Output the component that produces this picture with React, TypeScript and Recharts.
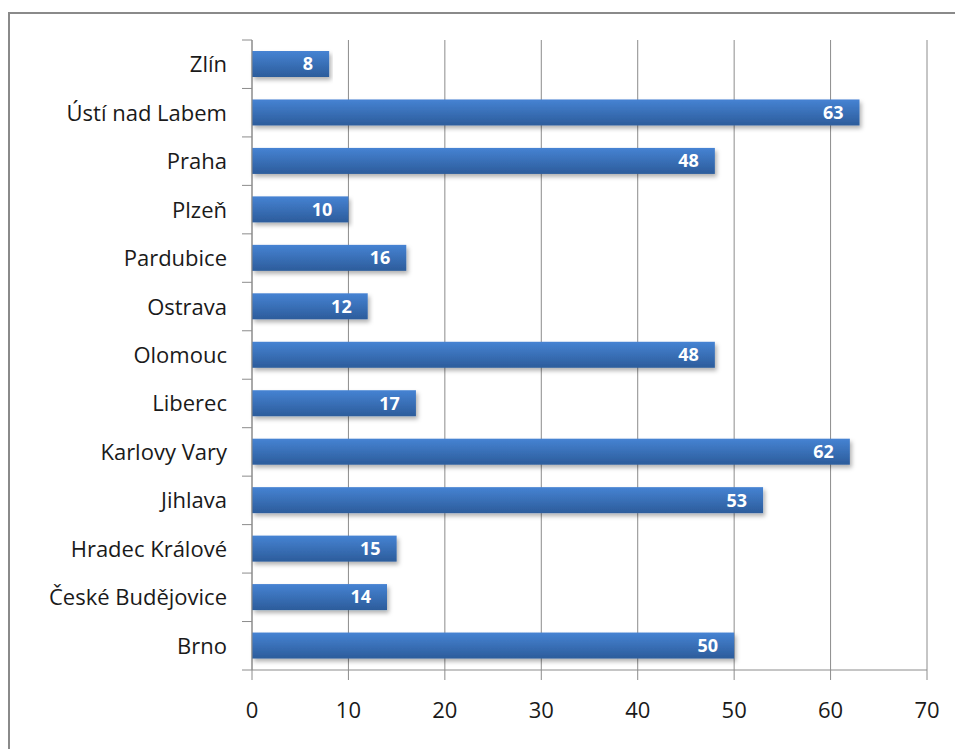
import { BarChart, Bar, XAxis, YAxis, CartesianGrid, LabelList } from "recharts";

const regions = [
  "Zlín",
  "Ústí nad Labem",
  "Praha",
  "Plzeň",
  "Pardubice",
  "Ostrava",
  "Olomouc",
  "Liberec",
  "Karlovy Vary",
  "Jihlava",
  "Hradec Králové",
  "České Budějovice",
  "Brno",
];
const counts = [8, 63, 48, 10, 16, 12, 48, 17, 62, 53, 15, 14, 50];
const xTicks = [0, 10, 20, 30, 40, 50, 60, 70];

const data = regions.map((name, i) => ({ name, value: counts[i] }));

const FONT = "'Open Sans', Lato, sans-serif";
const GRID = "#8c8c8c";
const BAND = 630 / regions.length;

// category tick: label centred in band, tick mark on band boundaries
const RegionTick = (props: any) => {
  const { x, y, payload, index } = props;
  const top = y - BAND / 2;
  return (
    <g>
      <line x1={x - 2} x2={x + 8} y1={top} y2={top} stroke={GRID} />
      {index === regions.length - 1 && (
        <line x1={x - 2} x2={x + 8} y1={top + BAND} y2={top + BAND} stroke={GRID} />
      )}
      <text x={x - 17} y={y} dy={8} textAnchor="end" fontSize={22} fill="#1a1a1a" fontFamily={FONT}>
        {payload.value}
      </text>
    </g>
  );
};

const ShadowBar = (props: any) => {
  const { x, y, width, height } = props;
  return <rect x={x} y={y} width={width} height={height} fill="url(#barGrad)" filter="url(#barShadow)" />;
};

const App = () => {
  return (
    <div style={{ position: "absolute", left: 0, top: 0, width: 955, height: 749, overflow: "hidden", background: "#fff" }}>
      <div
        style={{
          position: "absolute",
          left: 8,
          top: 12,
          width: 1000,
          height: 800,
          border: "2px solid #8a8a8a",
          boxSizing: "border-box",
        }}
      />
      <div style={{ position: "absolute", left: 0, top: 0 }}>
        <BarChart
          width={955}
          height={749}
          data={data}
          layout="vertical"
          margin={{ top: 40, right: 28, bottom: 49, left: 12 }}
          barSize={26}
        >
          <defs>
            <linearGradient id="barGrad" x1="0" y1="0" x2="0" y2="1">
              <stop offset="0%" stopColor="#4683d3" />
              <stop offset="100%" stopColor="#2c5c9b" />
            </linearGradient>
            <filter id="barShadow" x="-5%" y="-30%" width="110%" height="170%">
              <feDropShadow dx="2" dy="3" stdDeviation="2" floodColor="#000" floodOpacity="0.3" />
            </filter>
          </defs>
          <CartesianGrid horizontal={false} stroke={GRID} />
          <XAxis
            type="number"
            domain={[0, 70]}
            ticks={xTicks}
            interval={0}
            stroke={GRID}
            tickSize={10}
            tickMargin={22}
            tick={{ fontSize: 22, fill: "#1a1a1a", fontFamily: FONT }}
          />
          <YAxis
            type="category"
            dataKey="name"
            width={240}
            stroke={GRID}
            tickLine={false}
            interval={0}
            tick={<RegionTick />}
          />
          <Bar dataKey="value" shape={<ShadowBar />} isAnimationActive={false}>
            <LabelList
              dataKey="value"
              position="insideRight"
              offset={16}
              fill="#fff"
              fontSize={18}
              fontWeight="bold"
              fontFamily={FONT}
            />
          </Bar>
        </BarChart>
      </div>
    </div>
  );
};

export default App;
